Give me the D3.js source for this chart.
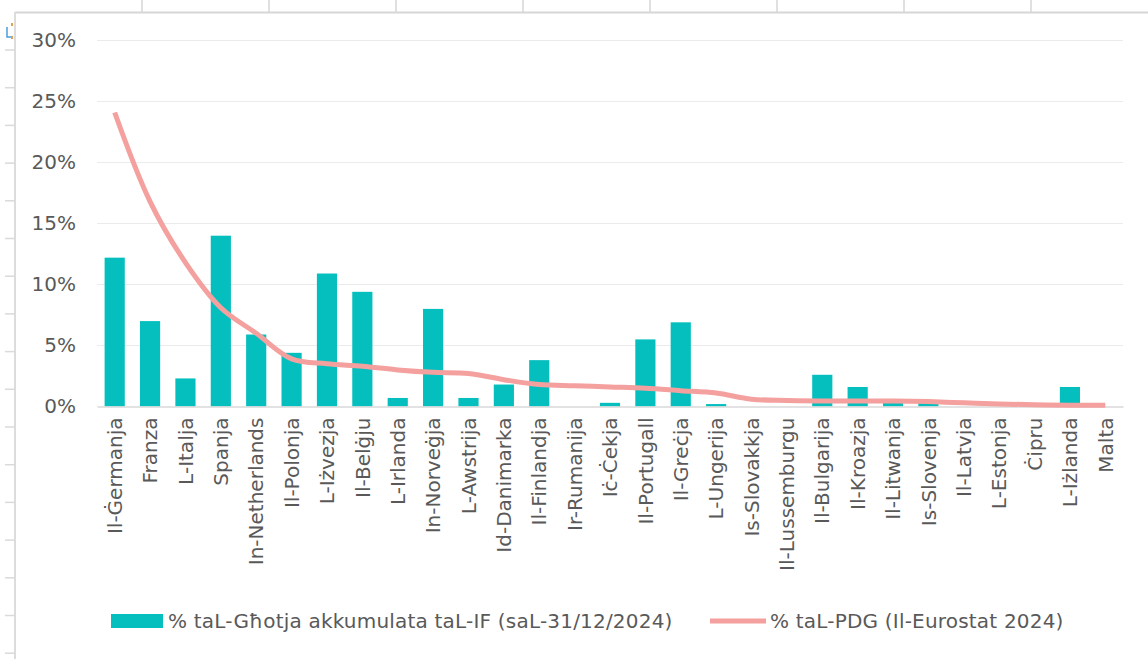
<!DOCTYPE html>
<html>
<head>
<meta charset="utf-8">
<script src="https://cdn.jsdelivr.net/npm/d3@7"></script>
<style>
  html, body { margin: 0; padding: 0; background: #fff; }
  svg { display: block; }
  text { font-family: "DejaVu Sans", sans-serif; fill: #595959; }
</style>
</head>
<body>
<script>
// Chart data

const categories = [
  "Il-Ġermanja", "Franza", "L-Italja", "Spanja", "In-Netherlands", "Il-Polonja",
  "L-Iżvezja", "Il-Belġju", "L-Irlanda", "In-Norveġja", "L-Awstrija", "Id-Danimarka",
  "Il-Finlandja", "Ir-Rumanija", "Iċ-Ċekja", "Il-Portugall", "Il-Greċja", "L-Ungerija",
  "Is-Slovakkja", "Il-Lussemburgu", "Il-Bulgarija", "Il-Kroazja", "Il-Litwanja",
  "Is-Slovenja", "Il-Latvja", "L-Estonja", "Ċipru", "L-Iżlanda", "Malta"
];

// % of accumulated IF funding (31/12/2024)
const fundShare = [
  0.122, 0.070, 0.023, 0.140, 0.059, 0.044,
  0.109, 0.094, 0.007, 0.080, 0.007, 0.018,
  0.038, 0.000, 0.003, 0.055, 0.069, 0.002,
  0.000, 0.000, 0.026, 0.016, 0.003,
  0.003, 0.000, 0.000, 0.000, 0.016, 0.000
];

// % of GDP (Eurostat 2024)
const gdpShare = [
  0.241, 0.168, 0.118, 0.081, 0.060, 0.039,
  0.035, 0.033, 0.030, 0.028, 0.027, 0.022,
  0.018, 0.017, 0.016, 0.015, 0.013, 0.011,
  0.006, 0.005, 0.0045, 0.0045, 0.0045,
  0.004, 0.003, 0.002, 0.0015, 0.001, 0.001
];

const yTicks = [0, 0.05, 0.10, 0.15, 0.20, 0.25, 0.30];

const legendItems = [
  { label: "% taL-Għotja akkumulata taL-IF (saL-31/12/2024)", kind: "bar" },
  { label: "% taL-PDG (Il-Eurostat 2024)", kind: "line" }
];

const barColor = "#05BFBF";
const lineColor = "#F4A09E";

const W = 1148, H = 659;

const svg = d3.select("body").append("svg")
  .attr("width", W)
  .attr("height", H);

// spreadsheet cells behind the chart
const sheet = svg.append("g").attr("class", "sheet");
sheet.append("rect").attr("width", W).attr("height", H).attr("fill", "#ffffff");
d3.range(142, W, 127).forEach(x => {
  sheet.append("line")
    .attr("x1", x).attr("x2", x).attr("y1", 0).attr("y2", 12)
    .attr("stroke", "#d6d6d6").attr("stroke-width", 1.5);
});
sheet.append("line")
  .attr("x1", 15).attr("x2", W).attr("y1", 12.5).attr("y2", 12.5)
  .attr("stroke", "#d6d6d6").attr("stroke-width", 2);
sheet.append("line")
  .attr("x1", 15).attr("x2", 15).attr("y1", 12).attr("y2", H)
  .attr("stroke", "#dcdcdc").attr("stroke-width", 2);
d3.range(50, H, 37.7).forEach(y => {
  sheet.append("line")
    .attr("x1", 5).attr("x2", 15).attr("y1", y).attr("y2", y)
    .attr("stroke", "#dadada").attr("stroke-width", 1.5);
});
// little selection handle in the corner
sheet.append("path")
  .attr("d", "M7,27 V37 H12")
  .attr("fill", "none").attr("stroke", "#4a9ee0").attr("stroke-width", 1.5);
sheet.append("rect").attr("x", 11).attr("y", 23).attr("width", 2).attr("height", 3).attr("fill", "#e0a050");
sheet.append("rect").attr("x", 11).attr("y", 36).attr("width", 2).attr("height", 3).attr("fill", "#e0a050");

// scales
const x = d3.scaleBand()
  .domain(categories)
  .range([97, 1123])
  .paddingInner(0.43)
  .paddingOuter(0.215);

const y = d3.scaleLinear()
  .domain([0, 0.30])
  .range([406.5, 40.5]);

// gridlines
svg.append("g")
  .selectAll("line")
  .data(yTicks.filter(d => d > 0))
  .join("line")
  .attr("x1", 97).attr("x2", 1123)
  .attr("y1", d => y(d)).attr("y2", d => y(d))
  .attr("stroke", "#ebebeb").attr("stroke-width", 1.2);

// y axis labels
const yAxis = svg.append("g")
  .attr("transform", "translate(76,0)")
  .call(d3.axisLeft(y).tickValues(yTicks).tickFormat(d3.format(".0%")).tickSize(0).tickPadding(0));
yAxis.select(".domain").remove();
yAxis.selectAll("text")
  .attr("font-size", 20)
  .attr("font-family", "DejaVu Sans, sans-serif")
  .attr("fill", "#5f5f5f");

// bars
svg.append("g")
  .selectAll("rect")
  .data(categories)
  .join("rect")
  .attr("x", d => x(d))
  .attr("width", x.bandwidth())
  .attr("y", (d, i) => y(fundShare[i]))
  .attr("height", (d, i) => y(0) - y(fundShare[i]))
  .attr("fill", barColor);

// x axis
const xAxis = svg.append("g")
  .attr("transform", `translate(0,${y(0)})`)
  .call(d3.axisBottom(x).tickSize(0).tickPadding(0));
xAxis.select(".domain")
  .attr("stroke", "#d9d9d9").attr("stroke-width", 1.5);
xAxis.selectAll("text")
  .attr("font-size", 20)
  .attr("font-family", "DejaVu Sans, sans-serif")
  .attr("fill", "#5f5f5f")
  .attr("text-anchor", "end")
  .attr("transform", "translate(0,11) rotate(-90)")
  .attr("x", 0)
  .attr("y", 0)
  .attr("dy", "0.36em");

// GDP line
const line = d3.line()
  .x((d, i) => x(categories[i]) + x.bandwidth() / 2)
  .y(d => y(d))
  .curve(d3.curveCatmullRom.alpha(0.5));

svg.append("path")
  .datum(gdpShare)
  .attr("d", line)
  .attr("fill", "none")
  .attr("stroke", lineColor)
  .attr("stroke-width", 5);

// legend
const legendX = [111, 710];
const lg = svg.append("g")
  .selectAll("g")
  .data(legendItems)
  .join("g")
  .attr("transform", (d, i) => `translate(${legendX[i]},621)`);

lg.filter(d => d.kind === "bar")
  .append("rect")
  .attr("x", 0).attr("y", -7).attr("width", 52).attr("height", 14)
  .attr("fill", barColor);

lg.filter(d => d.kind === "line")
  .append("line")
  .attr("x1", 0).attr("x2", 56).attr("y1", 0).attr("y2", 0)
  .attr("stroke", lineColor).attr("stroke-width", 5);

lg.append("text")
  .attr("x", d => d.kind === "bar" ? 57 : 60)
  .attr("dy", "0.36em")
  .attr("font-size", 20)
  .attr("letter-spacing", 0.2)
  .attr("fill", "#5f5f5f")
  .text(d => d.label);
</script>
</body>
</html>
